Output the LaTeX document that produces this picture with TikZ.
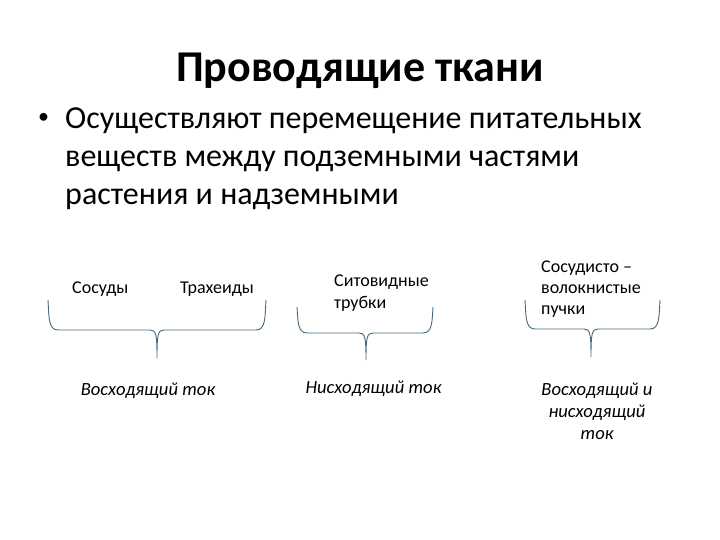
\documentclass[tikz,border=0pt]{standalone}
\usepackage{fontspec}
\setmainfont{Carlito}
\definecolor{brace}{RGB}{70,105,125}
\begin{document}
\begin{tikzpicture}[x=1pt,y=-1pt,
  body/.style={anchor=base west,inner sep=0pt,font=\fontsize{32}{38}\selectfont},
  lbl/.style={anchor=base west,inner sep=0pt,font=\fontsize{18}{21}\selectfont},
  flow/.style={anchor=base,inner sep=0pt,font=\fontsize{18.6}{22}\selectfont\itshape},
  br/.style={draw=brace,line width=0.9pt}]
\useasboundingbox (0,0) rectangle (720,540);
\node[anchor=base,inner sep=0pt,font=\fontsize{44}{52}\selectfont\bfseries] (title) at (360,82) {Проводящие ткани};
\node[anchor=center,inner sep=0pt,font=\fontsize{22}{26}\selectfont] (bullet) at (43.5,118) {•};
\node[body] (l1) at (65,129) {Осуществляют перемещение питательных};
\node[body] (l2) at (65,167) {веществ между подземными частями};
\node[body] (l3) at (65,205) {растения и надземными};
\node[lbl] (a1) at (72,293) {Сосуды};
\node[lbl] (a2) at (180,293) {Трахеиды};
\node[lbl] (b1) at (334,286) {Ситовидные};
\node[lbl] (b2) at (334,308) {трубки};
\node[lbl] (c1) at (541,272) {Сосудисто –};
\node[lbl] (c2) at (541,293) {волокнистые};
\node[lbl] (c3) at (541,314) {пучки};
\node[flow] (d1) at (148,395) {Восходящий ток};
\node[flow] (e1) at (373.5,393) {Нисходящий ток};
\node[flow] (f1) at (597,395) {Восходящий и};
\node[flow] (f2) at (597,417) {нисходящий};
\node[flow] (f3) at (597,439) {ток};
% braces
\foreach \L/\R/\C/\T/\H/\B/\n in {48/266/157/300/330/358/1, 297/433/366/307/333/360/2, 525/660/591/300/329/357/3}{
  \draw[br] (\L,\T) .. controls (\L+1,\H-14) and (\L,\H) .. (\L+10,\H) -- (\C-7,\H)
    .. controls (\C-1,\H) and (\C,\H+4) .. (\C,\B)
    .. controls (\C,\H+4) and (\C+1,\H) .. (\C+7,\H) -- (\R-10,\H)
    .. controls (\R,\H) and (\R-1,\H-14) .. (\R,\T);
}
\end{tikzpicture}
\end{document}
